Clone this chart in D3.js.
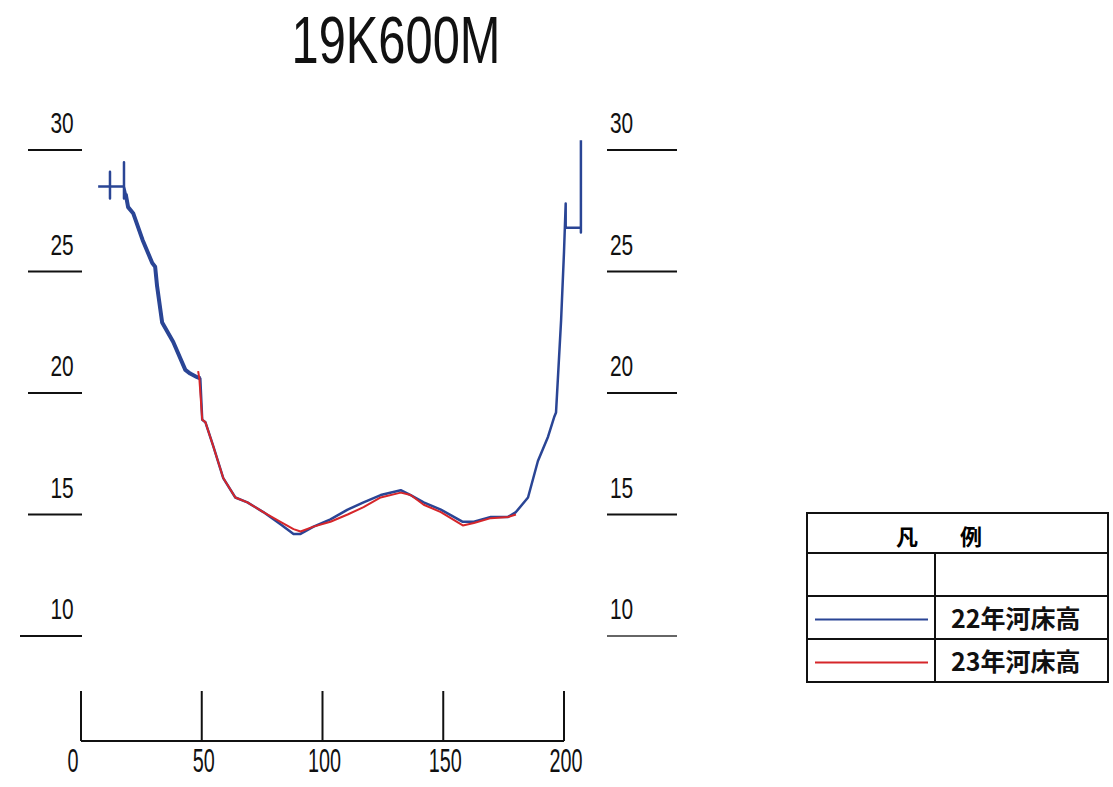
<!DOCTYPE html>
<html>
<head>
<meta charset="utf-8">
<script src="https://cdn.jsdelivr.net/npm/d3@7"></script>
<style>
  body { margin: 0; background: #fff; }
  svg { display: block; }
</style>
</head>
<body>
<script>
'use strict';

// 22年河床高 (blue)
const blueX = [7.1, 12.0, 12.0, 12.0, 12.0, 17.8, 17.8, 17.8, 17.8, 18.5, 19.5, 21.6, 25.5, 29.5, 30.7, 31.5, 33.6, 38.2, 43.2, 45.2, 48.1, 49.4,
  50.2, 51.5, 54.8, 58.9, 63.9, 68.9, 75.5, 82.6, 88.0, 90.9, 96.3, 103.3, 110.4, 117.0, 124.1, 132.4, 136.5, 141.9, 149.0, 158.1,
  162.7, 169.7, 176.8, 180.1, 185.1, 189.2, 193.4, 195.9, 196.7, 198.8, 200.0, 200.7, 200.7, 207.0, 207.0, 207.0];
const blueY = [28.5, 28.5, 29.1, 28.0, 28.5, 28.5, 29.5, 28.0, 28.5, 28.2, 27.65, 27.4, 26.3, 25.35, 25.2, 24.4, 22.9, 22.1, 20.95, 20.8, 20.65, 20.6,
  18.9, 18.8, 17.8, 16.5, 15.7, 15.5, 15.1, 14.6, 14.2, 14.2, 14.5, 14.8, 15.2, 15.5, 15.8, 16.0, 15.8, 15.5, 15.2, 14.7,
  14.7, 14.9, 14.9, 15.1, 15.7, 17.2, 18.2, 19.0, 19.2, 23.0, 25.8, 27.8, 26.8, 26.8, 26.6, 30.4];

// 23年河床高 (red)
const redX = [48.5, 49.0, 50.2, 51.5, 54.8, 58.9, 63.9, 68.9, 75.5, 82.6, 88.0, 90.9, 96.3, 103.3, 110.4, 117.0, 124.1, 132.4, 136.5,
  141.9, 149.0, 158.1, 162.7, 169.7, 176.8, 180.1];
const redY = [20.9, 20.6, 18.9, 18.8, 17.8, 16.5, 15.7, 15.5, 15.1, 14.7, 14.4, 14.3, 14.5, 14.7, 15.0, 15.3, 15.7, 15.9, 15.8,
  15.4, 15.1, 14.55, 14.65, 14.85, 14.9, 15.0];

const xTicks = [0, 50, 100, 150, 200];
const yTicks = [10, 15, 20, 25, 30];
const title = "19K600M";
const legendNames = ["22年河床高", "23年河床高"];
const legendColors = ["#2a4595", "#d6262a"];

const width = 1113, height = 787;
const numFont = "'Liberation Sans', Arial, sans-serif";
const cjkFont = "'Noto Sans CJK JP', sans-serif";

let svg = d3.select("body").append("svg")
  .attr("width", width)
  .attr("height", height);

let x = d3.scaleLinear().domain([0, 200]).range([81, 564]);
let y = d3.scaleLinear().domain([10, 30]).range([636, 150]);

// narrow text helper (the reference uses a condensed face)
function narrow(g, tx, ty, sx, txt, size, anchor) {
  g.append("text")
    .attr("transform", "translate(" + tx + "," + ty + ") scale(" + sx + ",1)")
    .attr("text-anchor", anchor || "middle")
    .style("font-family", numFont)
    .style("font-size", size + "px")
    .style("fill", "#111")
    .text(txt);
}

// title
narrow(svg, 396, 63, 0.74, title, 66);

// left y labels
let left = svg.append("g");
left.selectAll("line").data(yTicks).enter().append("line")
  .attr("x1", d => d === 10 ? 20 : 28).attr("x2", 82)
  .attr("y1", d => y(d)).attr("y2", d => y(d))
  .attr("stroke", "#111").attr("stroke-width", 2);
yTicks.forEach(d => narrow(left, 62, y(d) - 17, 0.72, d, 29));

// right y labels
let right = svg.append("g");
right.selectAll("line").data(yTicks).enter().append("line")
  .attr("x1", 607).attr("x2", 677)
  .attr("y1", d => y(d)).attr("y2", d => y(d))
  .attr("stroke", d => d === 10 ? "#666" : "#111").attr("stroke-width", 2);
yTicks.forEach(d => narrow(right, 610, y(d) - 17, 0.72, d, 29, "start"));

// x axis
let axisY = 741;
let bottom = svg.append("g");
bottom.append("line")
  .attr("x1", x(0)).attr("x2", x(200))
  .attr("y1", axisY).attr("y2", axisY)
  .attr("stroke", "#111").attr("stroke-width", 2);
bottom.selectAll("line.tick").data(xTicks).enter().append("line")
  .attr("class", "tick")
  .attr("x1", d => x(d)).attr("x2", d => x(d))
  .attr("y1", axisY - 50).attr("y2", axisY)
  .attr("stroke", "#111").attr("stroke-width", 2);
xTicks.forEach(d => narrow(bottom, d === 0 ? x(d) - 8 : x(d) + 2, 772, 0.6, d, 33));

// profile lines
let line = d3.line()
  .x(d => x(d[0]))
  .y(d => y(d[1]));

let blue = blueX.map((d, i) => [d, blueY[i]]);
let red = redX.map((d, i) => [d, redY[i]]);

svg.append("path")
  .attr("d", line(blue))
  .attr("fill", "none")
  .attr("stroke", legendColors[0])
  .attr("stroke-width", 2.5)
  .attr("stroke-linejoin", "round");

// the dense left bank survey reads thicker
svg.append("path")
  .attr("d", line(blue.filter(d => d[0] > 18 && d[0] < 50)))
  .attr("fill", "none")
  .attr("stroke", legendColors[0])
  .attr("stroke-width", 4)
  .attr("stroke-linejoin", "round");

svg.append("path")
  .attr("d", line(red))
  .attr("fill", "none")
  .attr("stroke", legendColors[1])
  .attr("stroke-width", 2)
  .attr("stroke-linejoin", "round");

// legend table
let lg = svg.append("g").attr("transform", "translate(807,513)");
let lw = 301, colX = 128;
let rows = [0, 40, 83, 126, 169];
lg.append("rect")
  .attr("width", lw).attr("height", rows[4])
  .attr("fill", "#fff").attr("stroke", "#111").attr("stroke-width", 2);
lg.selectAll("line.row").data(rows.slice(1, 4)).enter().append("line")
  .attr("class", "row")
  .attr("x1", 0).attr("x2", lw)
  .attr("y1", d => d).attr("y2", d => d)
  .attr("stroke", "#111").attr("stroke-width", 2);
lg.append("line")
  .attr("x1", colX).attr("x2", colX)
  .attr("y1", rows[1]).attr("y2", rows[4])
  .attr("stroke", "#111").attr("stroke-width", 2);
lg.append("text")
  .attr("x", 100).attr("y", 32)
  .attr("text-anchor", "middle")
  .style("font-family", cjkFont).style("font-size", "22px").style("font-weight", "bold")
  .text("凡");
lg.append("text")
  .attr("x", 164).attr("y", 32)
  .attr("text-anchor", "middle")
  .style("font-family", cjkFont).style("font-size", "22px").style("font-weight", "bold")
  .text("例");

legendNames.forEach((name, i) => {
  let cy = (rows[2 + i] + rows[3 + i]) / 2;
  lg.append("line")
    .attr("x1", 8).attr("x2", 121)
    .attr("y1", cy + 2).attr("y2", cy + 2)
    .attr("stroke", legendColors[i]).attr("stroke-width", 2);
  lg.append("text")
    .attr("x", 144).attr("y", cy + 10)
    .style("font-family", cjkFont).style("font-size", "25px").style("font-weight", "bold")
    .style("fill", "#111")
    .text(name);
});
</script>
</body>
</html>
